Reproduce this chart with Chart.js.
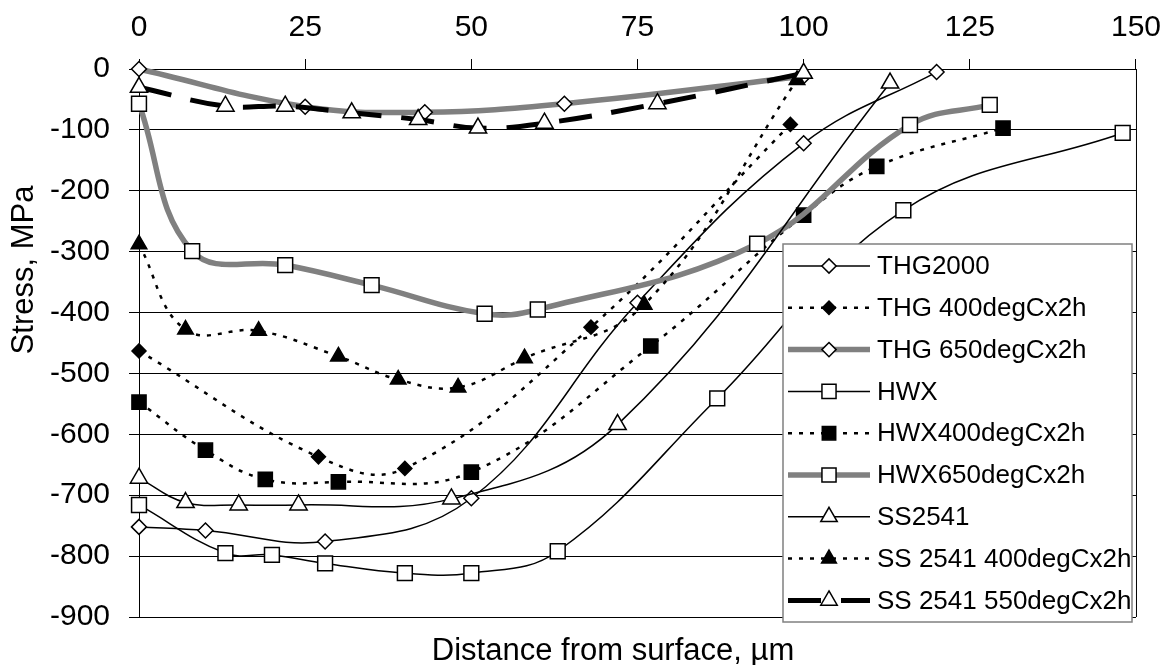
<!DOCTYPE html>
<html>
<head>
<meta charset="utf-8">
<script src="https://cdn.jsdelivr.net/npm/chart.js@4/dist/chart.umd.min.js"></script>
<style>
  body { margin: 0; background: #fff; }
  canvas { display: block; }
</style>
</head>
<body>
<canvas id="chart" width="1174" height="665"></canvas>
<script>
// values: distance (um) and stress (MPa)
const xTicks = [0, 25, 50, 75, 100, 125, 150]
const yTicks = [0, -100, -200, -300, -400, -500, -600, -700, -800, -900]

const thg2000X = [0, 10, 28, 50, 75, 100, 120]
const thg2000Y = [-752, -758, -776, -705, -384, -122, -5]

const thg400X = [0, 27, 40, 68, 98]
const thg400Y = [-463, -637, -656, -424, -91]

const thg650X = [0, 25, 43, 64, 100]
const thg650Y = [0, -62, -71, -57, -12]

const hwxX = [0, 13, 20, 28, 40, 50, 63, 87, 115, 148]
const hwxY = [-716, -795, -798, -812, -828, -828, -792, -541, -232, -105]

const hwx400X = [0, 10, 19, 30, 50, 77, 100, 111, 130]
const hwx400Y = [-547, -626, -674, -678, -662, -455, -240, -160, -97]

const hwx650X = [0, 8, 22, 35, 52, 60, 93, 116, 128]
const hwx650Y = [-57, -299, -322, -355, -402, -395, -287, -92, -59]

const ss2541X = [0, 7, 15, 24, 47, 72, 113]
const ss2541Y = [-672, -712, -716, -716, -706, -584, -23]

const ss400X = [0, 7, 18, 30, 39, 48, 58, 76, 99]
const ss400Y = [-288, -428, -430, -472, -510, -523, -475, -387, -18]

const ss550X = [0, 13, 22, 32, 42, 51, 61, 78, 100]
const ss550Y = [-30, -61, -61, -72, -83, -97, -89, -57, -7]

const seriesNames = [
  'THG2000', 'THG 400degCx2h', 'THG 650degCx2h',
  'HWX', 'HWX400degCx2h', 'HWX650degCx2h',
  'SS2541', 'SS 2541 400degCx2h', 'SS 2541 550degCx2h'
]

const FONT = 'Liberation Sans, Arial, sans-serif'
const GREY = '#808080'

function points (xs, ys) {
  return xs.map((x, i) => ({ x, y: ys[i] }))
}

// line styles per series (thin solid / dotted / thick grey / thick dashed)
const thin = { borderColor: '#000', borderWidth: 1.5, borderDash: [] }
const dotted = { borderColor: '#000', borderWidth: 2.5, borderDash: [4, 7] }
const thick = { borderColor: GREY, borderWidth: 5.5, borderDash: [] }
const dashed = { borderColor: '#000', borderWidth: 5, borderDash: [33, 20] }

const styles = [
  { ...thin, pointStyle: 'rectRot', pointRadius: 7.5, fill: '#fff' },
  { ...dotted, pointStyle: 'rectRot', pointRadius: 7, fill: '#000' },
  { ...thick, pointStyle: 'rectRot', pointRadius: 7.5, fill: '#fff' },
  { ...thin, pointStyle: 'rect', pointRadius: 10.5, fill: '#fff' },
  { ...dotted, pointStyle: 'rect', pointRadius: 10, fill: '#000' },
  { ...thick, pointStyle: 'rect', pointRadius: 10.5, fill: '#fff' },
  { ...thin, pointStyle: 'triangle', pointRadius: 10, fill: '#fff' },
  { ...dotted, pointStyle: 'triangle', pointRadius: 9, fill: '#000' },
  { ...dashed, pointStyle: 'triangle', pointRadius: 10, fill: '#fff' }
]

const seriesData = [
  points(thg2000X, thg2000Y),
  points(thg400X, thg400Y),
  points(thg650X, thg650Y),
  points(hwxX, hwxY),
  points(hwx400X, hwx400Y),
  points(hwx650X, hwx650Y),
  points(ss2541X, ss2541Y),
  points(ss400X, ss400Y),
  points(ss550X, ss550Y)
]

const datasets = seriesNames.map((name, i) => {
  const s = styles[i]
  return {
    label: name,
    data: seriesData[i],
    borderColor: s.borderColor,
    borderWidth: s.borderWidth,
    borderDash: s.borderDash,
    tension: 0.4,
    fill: false,
    clip: false,
    pointStyle: s.pointStyle,
    pointRadius: s.pointRadius,
    pointBackgroundColor: s.fill,
    pointBorderColor: '#000',
    pointBorderWidth: 1.5,
    order: seriesNames.length - i // later series on top, like the original
  }
})

// legend box inside the plot, axis titles and the right frame line
const decorations = {
  id: 'decorations',
  afterDraw (chart) {
    const ctx = chart.ctx
    const area = chart.chartArea
    ctx.save()

    ctx.strokeStyle = '#000'
    ctx.lineWidth = 1
    ctx.beginPath()
    ctx.moveTo(area.right + 0.5, area.top)
    ctx.lineTo(area.right + 0.5, area.bottom)
    ctx.stroke()

    // legend
    const box = { left: 783, top: 244, right: 1132, bottom: 622 }
    ctx.fillStyle = '#fff'
    ctx.fillRect(box.left, box.top, box.right - box.left, box.bottom - box.top)
    ctx.strokeStyle = GREY
    ctx.lineWidth = 1.5
    ctx.strokeRect(box.left, box.top, box.right - box.left, box.bottom - box.top)

    ctx.font = '26px ' + FONT
    ctx.textBaseline = 'middle'
    ctx.textAlign = 'left'
    chart.data.datasets.forEach((ds, i) => {
      const y = 266 + i * 41.8
      ctx.beginPath()
      ctx.setLineDash(ds.borderDash)
      ctx.lineWidth = ds.borderWidth
      ctx.strokeStyle = ds.borderColor
      ctx.moveTo(788, y)
      ctx.lineTo(870, y)
      ctx.stroke()
      ctx.setLineDash([])
      ctx.fillStyle = ds.pointBackgroundColor
      ctx.strokeStyle = '#000'
      ctx.lineWidth = 1.5
      Chart.helpers.drawPoint(ctx, { pointStyle: ds.pointStyle, radius: ds.pointRadius * 0.95, borderWidth: 1.5, rotation: 0 }, 829, y)
      ctx.fillStyle = '#000'
      ctx.fillText(ds.label, 877, y + 1)
    })

    // axis titles
    ctx.font = '31px ' + FONT
    ctx.fillStyle = '#000'
    ctx.textAlign = 'center'
    ctx.textBaseline = 'alphabetic'
    ctx.fillText('Distance from surface, µm', 613, 660)
    ctx.translate(33, 270)
    ctx.rotate(-Math.PI / 2)
    ctx.fillText('Stress, MPa', 0, 0)
    ctx.restore()
  }
}

Chart.defaults.font.family = FONT
Chart.defaults.font.size = 30
Chart.defaults.color = '#000'

new Chart(document.getElementById('chart'), { // eslint-disable-line
  type: 'line',
  data: { datasets },
  plugins: [decorations],
  options: {
    responsive: false,
    devicePixelRatio: 1,
    animation: false,
    layout: { padding: { left: 0, right: 36, top: 0, bottom: 48 } },
    plugins: {
      legend: { display: false },
      tooltip: { enabled: false }
    },
    scales: {
      x: {
        type: 'linear',
        position: 'top',
        min: xTicks[0],
        max: xTicks[xTicks.length - 1],
        afterBuildTicks: (scale) => { scale.ticks = xTicks.map(v => ({ value: v })) },
        afterFit: (scale) => { scale.height = 69 },
        grid: { drawOnChartArea: false, drawTicks: true, tickLength: 10, color: '#000', lineWidth: 1 },
        border: { display: true, color: '#000', width: 1 },
        ticks: { padding: 13, maxRotation: 0 }
      },
      y: {
        type: 'linear',
        min: yTicks[yTicks.length - 1],
        max: yTicks[0],
        afterBuildTicks: (scale) => { scale.ticks = yTicks.map(v => ({ value: v })) },
        afterFit: (scale) => { scale.width = 139 },
        grid: { color: '#000', lineWidth: 1, tickLength: 10 },
        border: { display: true, color: '#000', width: 1 },
        ticks: { padding: 19 }
      }
    }
  }
})
</script>
</body>
</html>
